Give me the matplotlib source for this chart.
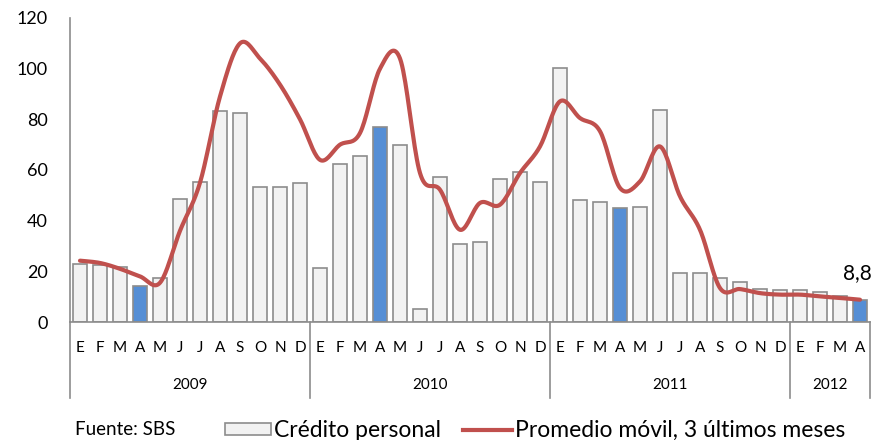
import numpy as np
import matplotlib
matplotlib.use("Agg")
import matplotlib.pyplot as plt
from matplotlib.patches import Rectangle
from matplotlib.lines import Line2D

plt.rcParams['font.family'] = ['Lato', 'DejaVu Sans']

months = ["E", "F", "M", "A", "M", "J", "J", "A", "S", "O", "N", "D"] * 3 + ["E", "F", "M", "A"]
years = ["2009", "2010", "2011", "2012"]
year_counts = [12, 12, 12, 4]

credito = [22.9, 22.4, 21.7, 14.2, 17.4, 48.6, 55.4, 83.2, 82.5, 53.4, 53.4, 54.7,
           21.4, 62.5, 65.7, 76.8, 69.9, 5.1, 57.4, 30.8, 31.6, 56.6, 59.2, 55.1,
           100.4, 48.3, 47.4, 45.1, 45.4, 83.6, 19.3, 19.3, 17.4, 15.7, 12.9, 12.5,
           12.6, 11.7, 10.4, 8.8]
promedio = [24.2, 23.3, 21.0, 18.0, 15.5, 36.0, 55.0, 89.0, 110.0, 104.0, 93.7, 80.0,
            64.0, 70.0, 74.6, 100.0, 104.0, 58.8, 52.2, 36.4, 47.0, 46.3, 58.8, 69.3,
            87.1, 80.5, 75.3, 52.9, 55.5, 69.3, 49.6, 36.4, 13.4, 13.0, 11.4, 10.8,
            10.8, 10.1, 9.5, 8.8]
highlight = [3, 15, 27, 39]
last_label = "8,8"

fig = plt.figure(figsize=(8.74, 4.4), dpi=100)
ax = fig.add_axes([70/874, 1-322/440, 800/874, 304/440])

n = len(credito)
x = np.arange(n)
colors = ['#558ED5' if i in highlight else '#F2F2F2' for i in range(n)]
ax.bar(x, credito, width=0.73, color=colors, edgecolor='#8C8C8C', linewidth=1.2, zorder=2)

# Smooth line (Excel-like Bezier through points)
px = np.array(x, dtype=float)
py = np.array(promedio, dtype=float)
cx, cy = [], []
t = np.linspace(0, 1, 20)
for i in range(n-1):
    p0 = np.array([px[max(i-1, 0)], py[max(i-1, 0)]])
    p1 = np.array([px[i], py[i]])
    p2 = np.array([px[i+1], py[i+1]])
    p3 = np.array([px[min(i+2, n-1)], py[min(i+2, n-1)]])
    c1 = p1 + (p2 - p0) / 6
    c2 = p2 - (p3 - p1) / 6
    b = ((1-t)**3)[:, None]*p1 + (3*(1-t)**2*t)[:, None]*c1 + (3*(1-t)*t**2)[:, None]*c2 + (t**3)[:, None]*p2
    cx.extend(b[:, 0]); cy.extend(b[:, 1])
ax.plot(cx, cy, color='#C0504D', linewidth=3.0, solid_capstyle='round', zorder=3)

ax.text(x[-1] - 0.15, credito[-1] + 6.5, last_label, ha='center', va='bottom', fontsize=15, color='black')

ax.set_xlim(-0.5, n - 0.5)
ax.set_ylim(0, 120)
ax.set_yticks(range(0, 121, 20))
ax.tick_params(axis='y', length=0, labelsize=13, pad=16)
ax.set_xticks(x)
ax.set_xticklabels(months, fontsize=11)
ax.tick_params(axis='x', length=0, pad=14)
for s in ['top', 'right']:
    ax.spines[s].set_visible(False)
for s in ['left', 'bottom']:
    ax.spines[s].set_color('#8C8C8C')
    ax.spines[s].set_linewidth(1.2)

# Year separators and labels
trans = ax.get_xaxis_transform()
bounds = np.concatenate([[0], np.cumsum(year_counts)]) - 0.5
for b in bounds:
    ax.add_line(Line2D([b, b], [0, -76/304], transform=trans, color='#8C8C8C', linewidth=1.2, clip_on=False))
for i, yname in enumerate(years):
    mid = (bounds[i] + bounds[i+1]) / 2
    ax.text(mid, -63/304, yname, transform=trans, ha='center', va='center', fontsize=11)

# Legend (manual)
fig.patches.append(Rectangle((225/874, 1-435/440), 46/874, 12/440, transform=fig.transFigure,
                             facecolor='#F2F2F2', edgecolor='#8C8C8C', linewidth=1.2))
fig.text(274/874, 1-437/440, "Crédito personal", fontsize=16.5, va='baseline', ha='left')
fig.lines.append(Line2D([463/874, 512/874], [1-430/440, 1-430/440], transform=fig.transFigure,
                        color='#C0504D', linewidth=3.0))
fig.text(515/874, 1-437/440, "Promedio móvil, 3 últimos meses", fontsize=16.5, va='baseline', ha='left')
fig.text(75/874, 1-435/440, "Fuente: SBS", fontsize=13.5, va='baseline', ha='left')

fig.savefig("out.png", dpi=100)
